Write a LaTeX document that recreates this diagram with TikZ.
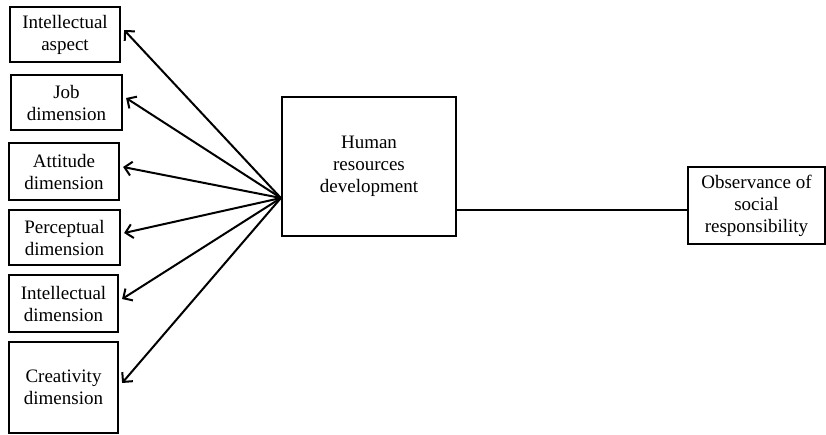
\documentclass[tikz,border=0pt]{standalone}
\usepackage{fontspec}
\setmainfont{Liberation Serif}
\usetikzlibrary{arrows.meta}
\begin{document}
\begin{tikzpicture}[x=1pt,y=-1pt,
  box/.style={draw,line width=2.2pt,align=center,inner sep=0pt,
    font=\fontsize{19}{22}\selectfont},
  link/.style={line width=2pt},
  arr/.style={link,-{Straight Barb[length=7pt,width=14pt,line width=2pt]}}]
\useasboundingbox (0,0) rectangle (826,434);
\node[box,minimum width=110pt,minimum height=55pt] (b1) at (65,34.5) {Intellectual\\aspect};
\node[box,minimum width=111pt,minimum height=55pt] (b2) at (66.5,102.5) {Job\\dimension};
\node[box,minimum width=110pt,minimum height=57pt] (b3) at (64,171.5) {Attitude\\dimension};
\node[box,minimum width=111pt,minimum height=55pt] (b4) at (64.5,237.5) {Perceptual\\dimension};
\node[box,minimum width=109pt,minimum height=57pt] (b5) at (63.5,303.5) {Intellectual\\dimension};
\node[box,minimum width=109pt,minimum height=91pt] (b6) at (63.5,387.5) {Creativity\\dimension};
\node[box,minimum width=174pt,minimum height=139pt] (hrd) at (369,166.5) {Human\\resources\\development};
\node[box,minimum width=137pt,minimum height=77pt] (obs) at (756.5,205.5) {Observance of\\social\\responsibility};
\coordinate (src) at ([yshift=-31.5pt]hrd.west);
\foreach \i in {1,...,6}{
  \draw[arr] (src) -- ([xshift=3pt,yshift=4.5pt]b\i.east);
}
\draw[link] ([yshift=-4.5pt]obs.west) -- ([yshift=-4.5pt]obs.west -| hrd.east);
\end{tikzpicture}
\end{document}
